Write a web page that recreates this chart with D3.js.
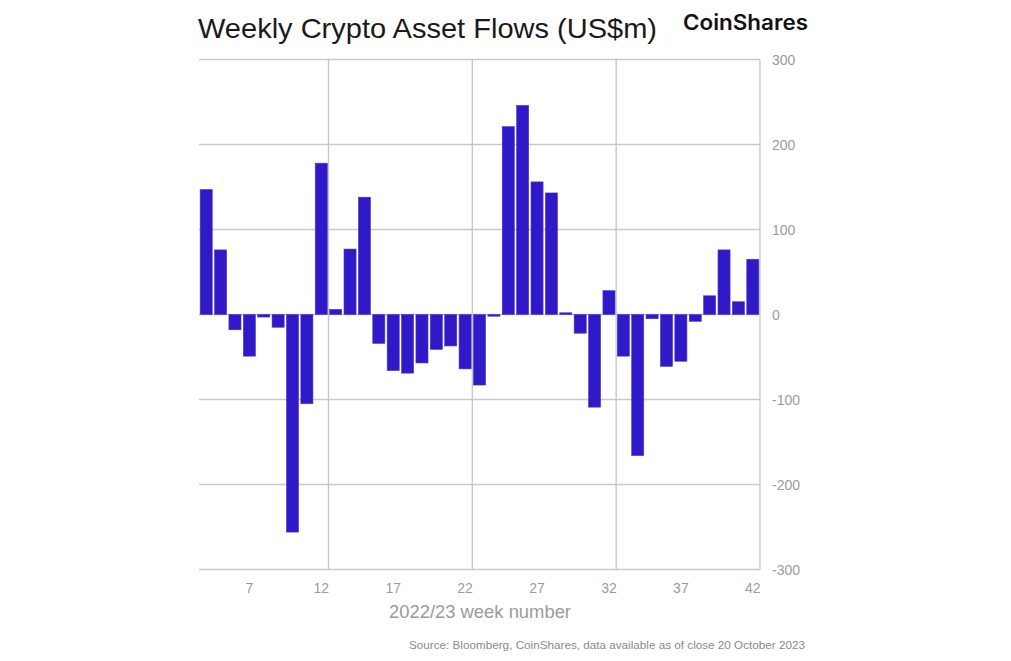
<!DOCTYPE html>
<html><head><meta charset="utf-8">
<script src="https://cdn.jsdelivr.net/npm/d3@7"></script>
<style>body{margin:0;background:#fff;}svg{display:block;font-family:"Liberation Sans",Arial,sans-serif;}</style>
</head><body>
<svg id="c" width="1011" height="661"></svg>
<script>
const weeks = d3.range(4, 43);
const flows = [147, 76, -18, -49, -3, -15, -256, -105, 178, 6, 77, 138,
  -34, -66, -69, -57, -41, -37, -64, -83, -2, 221, 246, 156, 143, 2,
  -22, -109, 28, -49, -166, -5, -61, -55, -8, 22, 76, 15, 65];
const yTicks = [-300, -200, -100, 0, 100, 200, 300];
const xTickWeeks = [7, 12, 17, 22, 27, 32, 37, 42];
const gridAfterWeeks = [12, 22, 32];

const svg = d3.select("#c");
const L = 199, R = 760, T = 59.5, B = 569.5;
const x = d3.scaleBand().domain(weeks).range([L, R]).paddingInner(0.16).paddingOuter(0.08);
const y = d3.scaleLinear().domain([-300, 300]).range([B, T]);
const step = x.step();

// horizontal gridlines
svg.append("g").selectAll("line").data(yTicks).join("line")
  .attr("x1", L).attr("x2", R).attr("y1", d => y(d)).attr("y2", d => y(d))
  .attr("stroke", "#c9c9c9").attr("stroke-width", 1.3);
// vertical gridlines
const bEdge = w => x(w) + x.bandwidth() + (step - x.bandwidth()) / 2;
svg.append("g").selectAll("line").data(gridAfterWeeks).join("line")
  .attr("x1", d => bEdge(d)).attr("x2", d => bEdge(d)).attr("y1", T).attr("y2", B)
  .attr("stroke", "#c4c4c4").attr("stroke-width", 1.3);
svg.append("line").attr("x1", R).attr("x2", R).attr("y1", T).attr("y2", B)
  .attr("stroke", "#c4c4c4").attr("stroke-width", 1.3);

// bars
svg.append("g").selectAll("rect").data(weeks.map((w, i) => ({w, v: flows[i]}))).join("rect")
  .attr("x", d => x(d.w)).attr("width", x.bandwidth())
  .attr("y", d => y(Math.max(0, d.v))).attr("height", d => Math.abs(y(d.v) - y(0)))
  .attr("fill", "#3019c6").attr("stroke", "#4a36d0").attr("stroke-width", 0.6);

// y axis labels (right)
svg.append("g").selectAll("text").data(yTicks).join("text")
  .attr("x", 772).attr("y", d => y(d) + 5).text(d => d)
  .attr("font-size", 14).attr("fill", "#9b9b9b");

// x axis labels
svg.append("g").selectAll("text").data(xTickWeeks).join("text")
  .attr("x", d => x(d) + x.bandwidth() / 2).attr("y", 593).attr("text-anchor", "middle").text(d => d)
  .attr("font-size", 14).attr("fill", "#9b9b9b");

svg.append("text").attr("x", 480).attr("y", 618).attr("text-anchor", "middle")
  .attr("font-size", 18.4).attr("fill", "#9b9b9b").text("2022/23 week number");

svg.append("text").attr("x", 198).attr("y", 38)
  .attr("font-size", 28).attr("fill", "#1a1a1a")
  .attr("textLength", 459).attr("lengthAdjust", "spacingAndGlyphs")
  .text("Weekly Crypto Asset Flows (US$m)");
svg.append("text").attr("x", 683).attr("y", 30)
  .attr("font-family", "Inter, 'Liberation Sans', sans-serif")
  .attr("font-size", 21).attr("font-weight", 600).attr("fill", "#111")
  .attr("textLength", 125).attr("lengthAdjust", "spacingAndGlyphs").text("CoinShares");

svg.append("text").attr("x", 805).attr("y", 649).attr("text-anchor", "end")
  .attr("font-size", 11.6).attr("fill", "#8a8a8a")
  .attr("textLength", 396).attr("lengthAdjust", "spacingAndGlyphs")
  .text("Source: Bloomberg, CoinShares, data available as of close 20 October 2023");
</script>
</body></html>
